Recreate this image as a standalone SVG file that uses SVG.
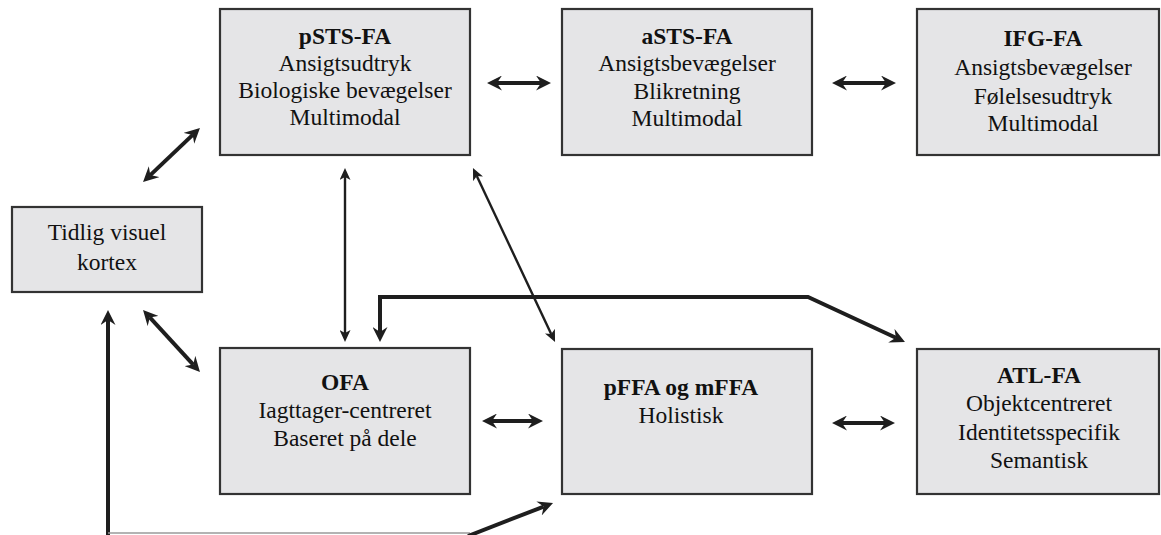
<svg xmlns="http://www.w3.org/2000/svg" width="1161" height="535" viewBox="0 0 1161 535">
  <defs>
    <style>
      .box { fill: #e5e5e7; stroke: #333; stroke-width: 2.2; }
      .t { font-size: 23.5px; fill: #111; text-anchor: middle; }
      .b { font-weight: bold; }
      .thick { fill: none; stroke: #1e1e1e; stroke-width: 4; }
      .thin { fill: none; stroke: #1e1e1e; stroke-width: 2.4; }
      .faint { fill: none; stroke: #9a9a9a; stroke-width: 1.5; }
    </style>
    <!-- heavy barbed head: tip sits 10 units past the line end -->
    <marker id="headBig" viewBox="0 -7.5 15 15" refX="5" refY="0" markerWidth="15" markerHeight="15" markerUnits="userSpaceOnUse" orient="auto-start-reverse">
      <path d="M0,-7.5 L15,0 L0,7.5 L5,0 Z" fill="#1e1e1e"/>
    </marker>
    <!-- light head for the thin connectors: tip 9 units past the line end -->
    <marker id="headSmall" viewBox="0 -5.5 12 11" refX="3" refY="0" markerWidth="12" markerHeight="11" markerUnits="userSpaceOnUse" orient="auto-start-reverse">
      <path d="M0,-5.5 L12,0 L0,5.5 L3,0 Z" fill="#1e1e1e"/>
    </marker>
  </defs>

  <rect width="1161" height="535" fill="#ffffff"/>

  <g id="connectors">
    <!-- horizontal double arrows -->
    <line class="thick" x1="497" y1="83" x2="541" y2="83" marker-start="url(#headBig)" marker-end="url(#headBig)"/>
    <line class="thick" x1="842" y1="83" x2="886" y2="83" marker-start="url(#headBig)" marker-end="url(#headBig)"/>
    <line class="thick" x1="492" y1="421" x2="533" y2="421" marker-start="url(#headBig)" marker-end="url(#headBig)"/>
    <line class="thick" x1="842" y1="423" x2="885" y2="423" marker-start="url(#headBig)" marker-end="url(#headBig)"/>
    <!-- early visual cortex links -->
    <line class="thick" x1="150.3" y1="175.1" x2="192.7" y2="134.9" marker-start="url(#headBig)" marker-end="url(#headBig)"/>
    <line class="thick" x1="149.8" y1="317.4" x2="193.2" y2="364.6" marker-start="url(#headBig)" marker-end="url(#headBig)"/>
    <!-- thin links from pSTS-FA -->
    <line class="thin" x1="345" y1="177" x2="345" y2="333" marker-start="url(#headSmall)" marker-end="url(#headSmall)"/>
    <line class="thin" x1="476.8" y1="176.1" x2="551.2" y2="333.9" marker-start="url(#headSmall)" marker-end="url(#headSmall)"/>
    <!-- OFA to ATL-FA route -->
    <polyline class="thick" points="380,332 380,297 808,297 895.9,337.8" marker-start="url(#headBig)" marker-end="url(#headBig)"/>
    <!-- bottom feed-forward route -->
    <line class="thick" x1="108" y1="536" x2="108" y2="320" marker-end="url(#headBig)"/>
    <line class="faint" x1="108" y1="533" x2="470" y2="533"/>
    <line class="thick" x1="468" y1="536" x2="543.7" y2="506.6" marker-end="url(#headBig)"/>
  </g>

  <g font-family="'Liberation Serif', 'Times New Roman', Times, 'DejaVu Serif', serif">
  <g id="pSTS-FA">
    <rect class="box" x="220" y="9" width="250" height="146"/>
    <text class="t b" x="345" y="44">pSTS-FA</text>
    <text class="t" x="345" y="71">Ansigtsudtryk</text>
    <text class="t" x="345" y="98">Biologiske bevægelser</text>
    <text class="t" x="345" y="125">Multimodal</text>
  </g>

  <g id="aSTS-FA">
    <rect class="box" x="562" y="9" width="250" height="146"/>
    <text class="t b" x="687" y="44">aSTS-FA</text>
    <text class="t" x="687" y="71">Ansigtsbevægelser</text>
    <text class="t" x="687" y="99">Blikretning</text>
    <text class="t" x="687" y="126">Multimodal</text>
  </g>

  <g id="IFG-FA">
    <rect class="box" x="917" y="9" width="242" height="146"/>
    <text class="t b" x="1043" y="46">IFG-FA</text>
    <text class="t" x="1043" y="75">Ansigtsbevægelser</text>
    <text class="t" x="1043" y="104">Følelsesudtryk</text>
    <text class="t" x="1043" y="131">Multimodal</text>
  </g>

  <g id="tidlig-visuel-kortex">
    <rect class="box" x="12" y="207" width="190" height="85"/>
    <text class="t" x="107" y="240">Tidlig visuel</text>
    <text class="t" x="107" y="270">kortex</text>
  </g>

  <g id="OFA">
    <rect class="box" x="220" y="348" width="250" height="146"/>
    <text class="t b" x="345" y="390">OFA</text>
    <text class="t" x="345" y="418">Iagttager-centreret</text>
    <text class="t" x="345" y="446">Baseret på dele</text>
  </g>

  <g id="pFFA-mFFA">
    <rect class="box" x="562" y="349" width="250" height="145"/>
    <text class="t b" x="681" y="395">pFFA og mFFA</text>
    <text class="t" x="681" y="423">Holistisk</text>
  </g>

  <g id="ATL-FA">
    <rect class="box" x="917" y="349" width="242" height="145"/>
    <text class="t b" x="1039" y="383">ATL-FA</text>
    <text class="t" x="1039" y="411">Objektcentreret</text>
    <text class="t" x="1039" y="440">Identitetsspecifik</text>
    <text class="t" x="1039" y="468">Semantisk</text>
  </g>
  </g>
</svg>
